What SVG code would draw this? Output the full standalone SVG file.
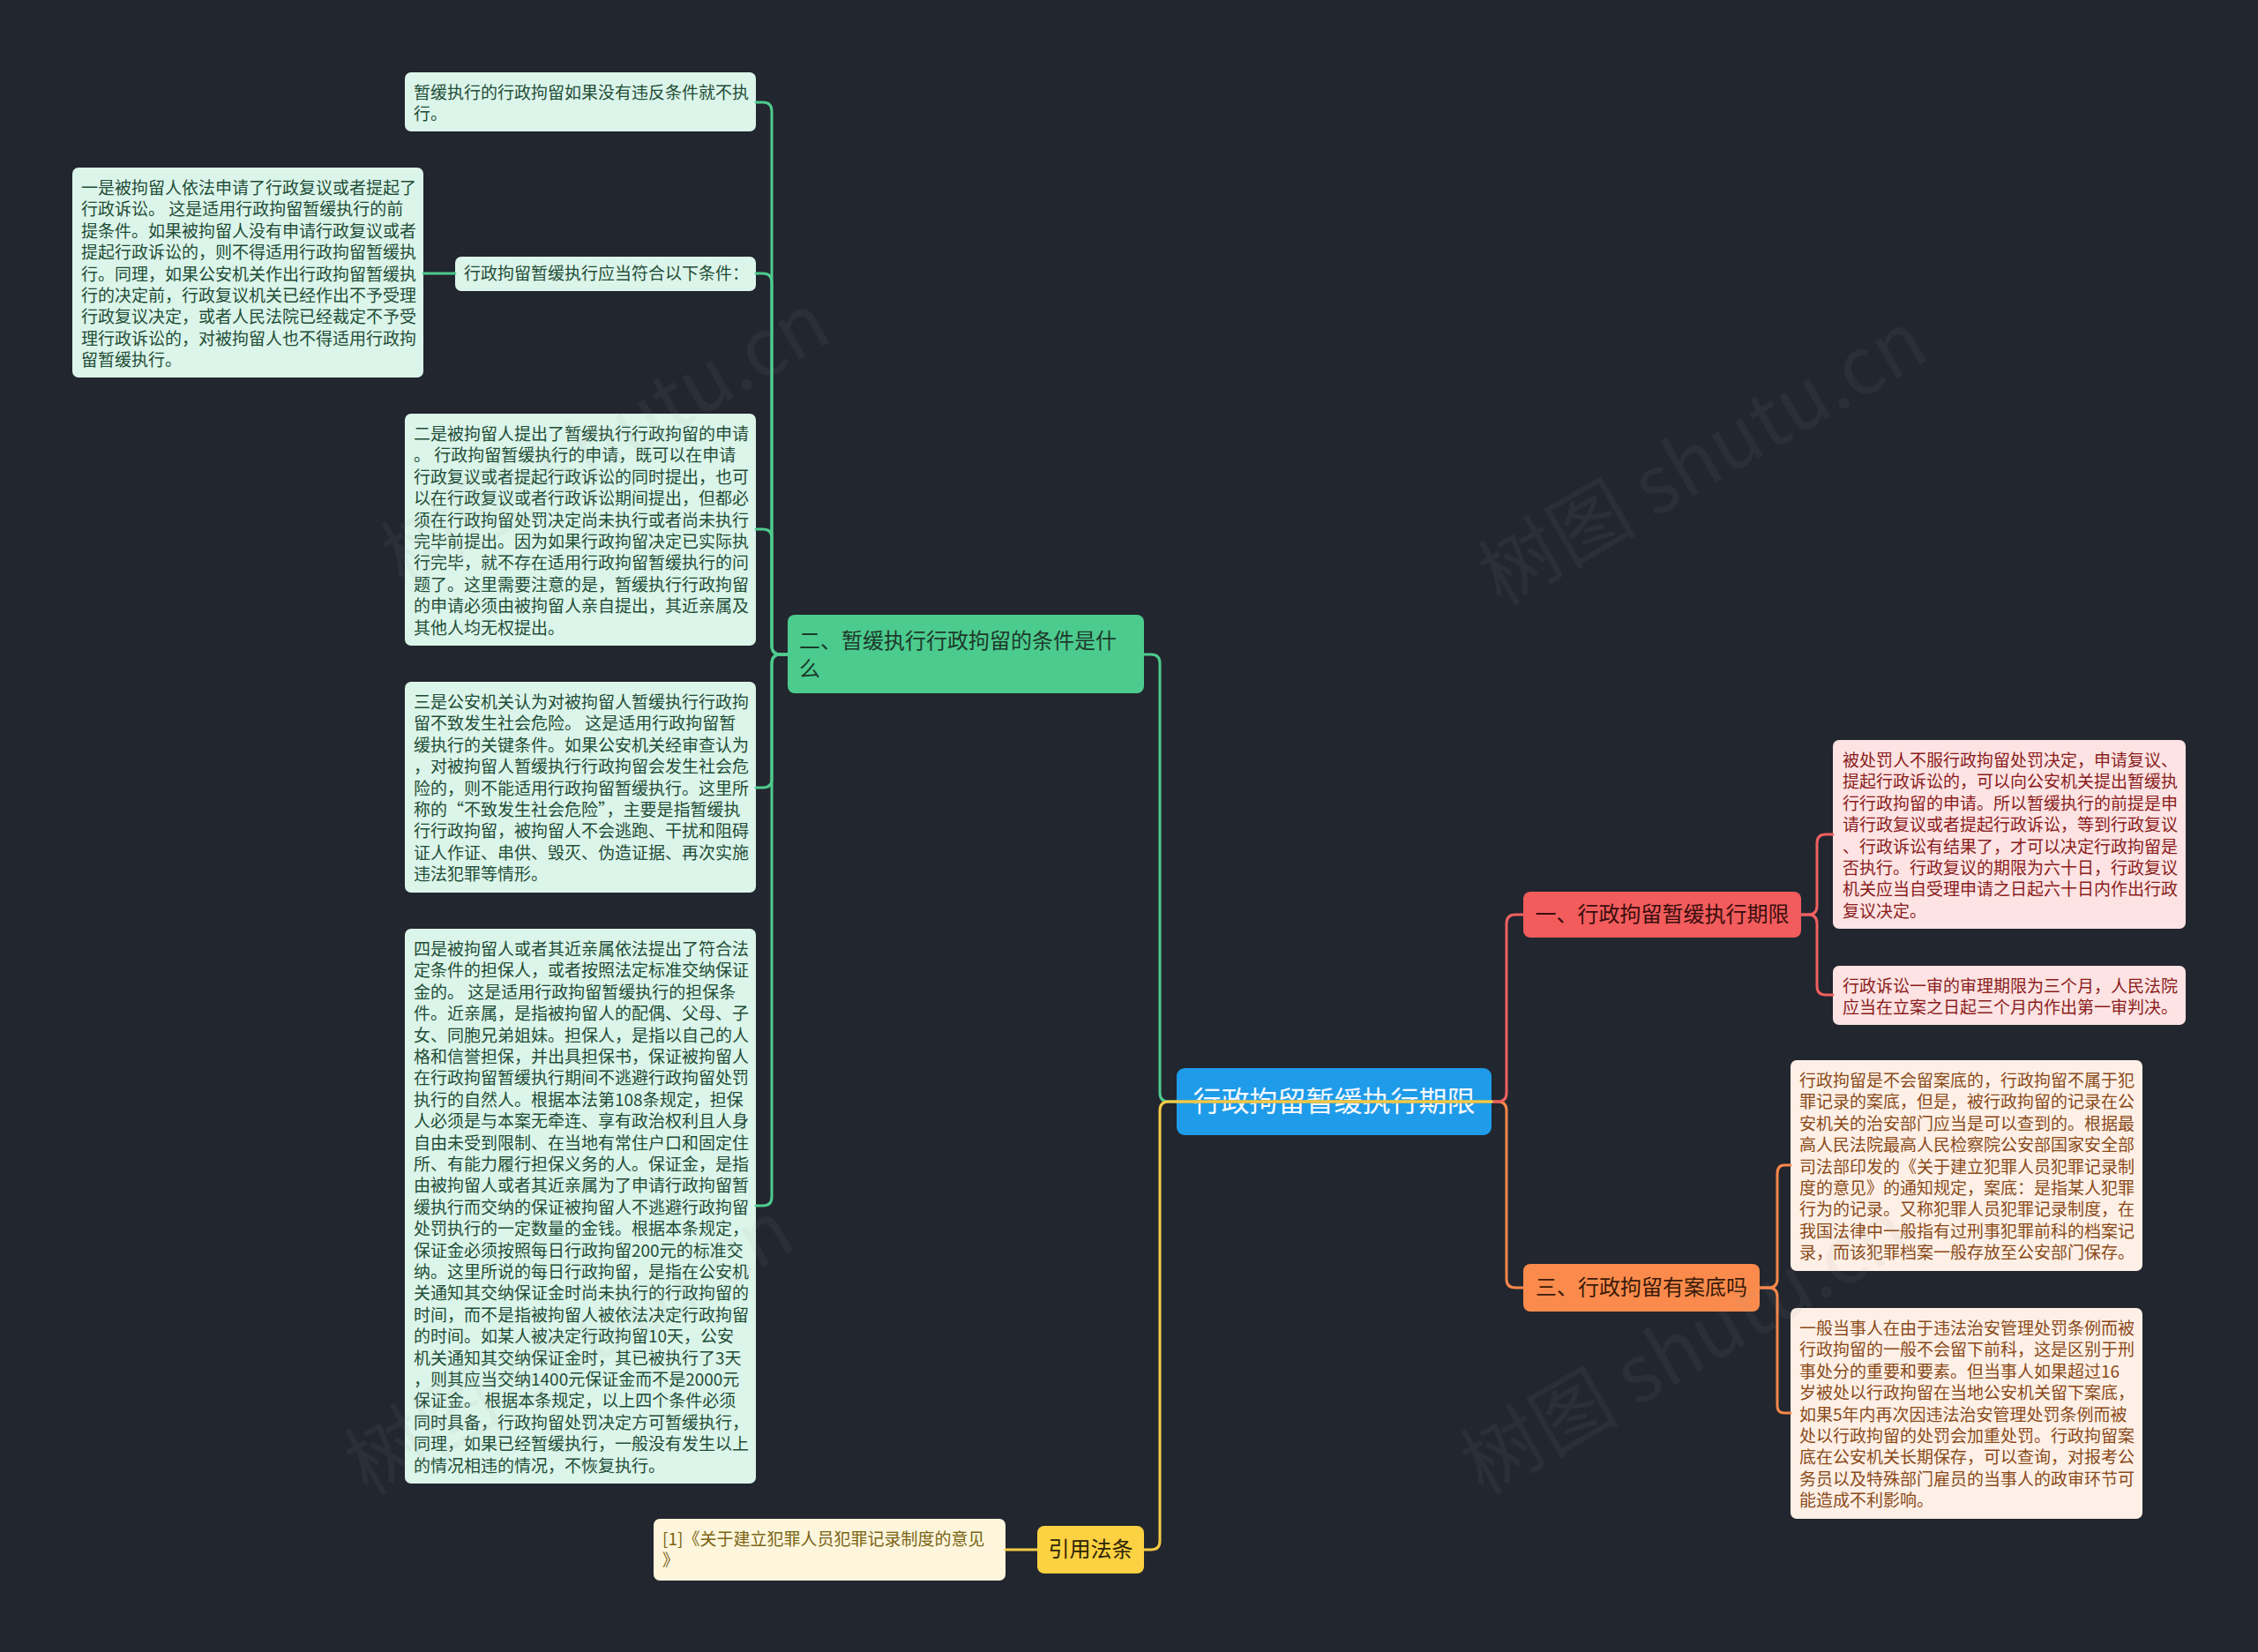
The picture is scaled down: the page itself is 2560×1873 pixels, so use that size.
<svg xmlns="http://www.w3.org/2000/svg" width="2560" height="1873" viewBox="0 0 2560 1873">
<style>
.t{font-family:"Noto Sans CJK SC","Noto Sans",sans-serif;}
.leaf{font-size:19px;}
.br{font-size:24px;}
.gl{fill:#dcf5ea;}
.glt{fill:#1f4d37;}
.rl{fill:#fde3e3;}
.rlt{fill:#8a1c1c;}
.ol{fill:#fef0e6;}
.olt{fill:#8a4a1a;}
.c{fill:none;stroke-width:3;stroke-linecap:round;}
.wm{font-family:"Noto Sans CJK SC",sans-serif;font-size:90px;fill:#9a9a9a;opacity:0.08;}
</style>
<rect width="2560" height="1873" fill="#22262f"/>

<g id="nodes">
<g id="n-g1">
<rect x="459" y="82" width="398" height="67" rx="7" class="gl"/>
<text class="t leaf glt"><tspan x="469" y="112">暂缓执行的行政拘留如果没有违反条件就不执</tspan><tspan x="469" y="136.4">行。</tspan></text>
</g>
<g id="n-g2">
<rect x="516" y="291" width="341" height="39" rx="7" class="gl"/>
<text class="t leaf glt"><tspan x="526" y="317">行政拘留暂缓执行应当符合以下条件：</tspan></text>
</g>
<g id="n-g2a">
<rect x="82" y="190" width="398" height="238" rx="7" class="gl"/>
<text class="t leaf glt"><tspan x="92" y="220">一是被拘留人依法申请了行政复议或者提起了</tspan><tspan x="92" y="244.4">行政诉讼。 这是适用行政拘留暂缓执行的前</tspan><tspan x="92" y="268.8">提条件。如果被拘留人没有申请行政复议或者</tspan><tspan x="92" y="293.2">提起行政诉讼的，则不得适用行政拘留暂缓执</tspan><tspan x="92" y="317.6">行。同理，如果公安机关作出行政拘留暂缓执</tspan><tspan x="92" y="342">行的决定前，行政复议机关已经作出不予受理</tspan><tspan x="92" y="366.4">行政复议决定，或者人民法院已经裁定不予受</tspan><tspan x="92" y="390.8">理行政诉讼的，对被拘留人也不得适用行政拘</tspan><tspan x="92" y="415.2">留暂缓执行。</tspan></text>
</g>
<g id="n-g3">
<rect x="459" y="469" width="398" height="263" rx="7" class="gl"/>
<text class="t leaf glt"><tspan x="469" y="499">二是被拘留人提出了暂缓执行行政拘留的申请</tspan><tspan x="469" y="523.4">。 行政拘留暂缓执行的申请，既可以在申请</tspan><tspan x="469" y="547.8">行政复议或者提起行政诉讼的同时提出，也可</tspan><tspan x="469" y="572.2">以在行政复议或者行政诉讼期间提出，但都必</tspan><tspan x="469" y="596.6">须在行政拘留处罚决定尚未执行或者尚未执行</tspan><tspan x="469" y="621">完毕前提出。因为如果行政拘留决定已实际执</tspan><tspan x="469" y="645.4">行完毕，就不存在适用行政拘留暂缓执行的问</tspan><tspan x="469" y="669.8">题了。这里需要注意的是，暂缓执行行政拘留</tspan><tspan x="469" y="694.2">的申请必须由被拘留人亲自提出，其近亲属及</tspan><tspan x="469" y="718.6">其他人均无权提出。</tspan></text>
</g>
<g id="n-g4">
<rect x="459" y="773" width="398" height="239" rx="7" class="gl"/>
<text class="t leaf glt"><tspan x="469" y="803">三是公安机关认为对被拘留人暂缓执行行政拘</tspan><tspan x="469" y="827.4">留不致发生社会危险。 这是适用行政拘留暂</tspan><tspan x="469" y="851.8">缓执行的关键条件。如果公安机关经审查认为</tspan><tspan x="469" y="876.2">，对被拘留人暂缓执行行政拘留会发生社会危</tspan><tspan x="469" y="900.6">险的，则不能适用行政拘留暂缓执行。这里所</tspan><tspan x="469" y="925">称的“不致发生社会危险”，主要是指暂缓执</tspan><tspan x="469" y="949.4">行行政拘留，被拘留人不会逃跑、干扰和阻碍</tspan><tspan x="469" y="973.8">证人作证、串供、毁灭、伪造证据、再次实施</tspan><tspan x="469" y="998.2">违法犯罪等情形。</tspan></text>
</g>
<g id="n-g5">
<rect x="459" y="1053" width="398" height="629" rx="7" class="gl"/>
<text class="t leaf glt"><tspan x="469" y="1083">四是被拘留人或者其近亲属依法提出了符合法</tspan><tspan x="469" y="1107.4">定条件的担保人，或者按照法定标准交纳保证</tspan><tspan x="469" y="1131.8">金的。 这是适用行政拘留暂缓执行的担保条</tspan><tspan x="469" y="1156.2">件。近亲属，是指被拘留人的配偶、父母、子</tspan><tspan x="469" y="1180.6">女、同胞兄弟姐妹。担保人，是指以自己的人</tspan><tspan x="469" y="1205">格和信誉担保，并出具担保书，保证被拘留人</tspan><tspan x="469" y="1229.4">在行政拘留暂缓执行期间不逃避行政拘留处罚</tspan><tspan x="469" y="1253.8">执行的自然人。根据本法第108条规定，担保</tspan><tspan x="469" y="1278.2">人必须是与本案无牵连、享有政治权利且人身</tspan><tspan x="469" y="1302.6">自由未受到限制、在当地有常住户口和固定住</tspan><tspan x="469" y="1327">所、有能力履行担保义务的人。保证金，是指</tspan><tspan x="469" y="1351.4">由被拘留人或者其近亲属为了申请行政拘留暂</tspan><tspan x="469" y="1375.8">缓执行而交纳的保证被拘留人不逃避行政拘留</tspan><tspan x="469" y="1400.2">处罚执行的一定数量的金钱。根据本条规定，</tspan><tspan x="469" y="1424.6">保证金必须按照每日行政拘留200元的标准交</tspan><tspan x="469" y="1449">纳。这里所说的每日行政拘留，是指在公安机</tspan><tspan x="469" y="1473.4">关通知其交纳保证金时尚未执行的行政拘留的</tspan><tspan x="469" y="1497.8">时间，而不是指被拘留人被依法决定行政拘留</tspan><tspan x="469" y="1522.2">的时间。如某人被决定行政拘留10天，公安</tspan><tspan x="469" y="1546.6">机关通知其交纳保证金时，其已被执行了3天</tspan><tspan x="469" y="1571">，则其应当交纳1400元保证金而不是2000元</tspan><tspan x="469" y="1595.4">保证金。 根据本条规定，以上四个条件必须</tspan><tspan x="469" y="1619.8">同时具备，行政拘留处罚决定方可暂缓执行，</tspan><tspan x="469" y="1644.2">同理，如果已经暂缓执行，一般没有发生以上</tspan><tspan x="469" y="1668.6">的情况相违的情况，不恢复执行。</tspan></text>
</g>
<g id="n-green">
<rect x="893" y="697" width="404" height="89" rx="8" fill="#4ccb8e"/>
<text class="t br" fill="#1c3a2b"><tspan x="906" y="735">二、暂缓执行行政拘留的条件是什</tspan><tspan x="906" y="767">么</tspan></text>
</g>
<g id="n-ref">
<rect x="741" y="1722" width="399" height="70" rx="7" fill="#fdf6dc"/>
<text class="t leaf" fill="#7a6414"><tspan x="751" y="1752">[1]《关于建立犯罪人员犯罪记录制度的意见</tspan><tspan x="751" y="1776.4">》</tspan></text>
</g>
<g id="n-yellow">
<rect x="1176" y="1730" width="121" height="54" rx="8" fill="#fcd142"/>
<text class="t br" fill="#2b2406" x="1236.5" y="1765" text-anchor="middle">引用法条</text>
</g>
<g id="n-root">
<rect x="1334" y="1211" width="357" height="76" rx="9" fill="#1e9be9"/>
<text class="t" font-size="32" fill="#f2f8ff" x="1512.5" y="1260" text-anchor="middle">行政拘留暂缓执行期限</text>
</g>
<g id="n-red">
<rect x="1727" y="1011" width="315" height="52" rx="8" fill="#f25c5c"/>
<text class="t br" fill="#3a0d0d" x="1884.5" y="1045" text-anchor="middle">一、行政拘留暂缓执行期限</text>
</g>
<g id="n-r1">
<rect x="2078" y="839" width="400" height="214" rx="7" class="rl"/>
<text class="t leaf rlt"><tspan x="2089" y="869">被处罚人不服行政拘留处罚决定，申请复议、</tspan><tspan x="2089" y="893.4">提起行政诉讼的，可以向公安机关提出暂缓执</tspan><tspan x="2089" y="917.8">行行政拘留的申请。所以暂缓执行的前提是申</tspan><tspan x="2089" y="942.2">请行政复议或者提起行政诉讼，等到行政复议</tspan><tspan x="2089" y="966.6">、行政诉讼有结果了，才可以决定行政拘留是</tspan><tspan x="2089" y="991">否执行。行政复议的期限为六十日，行政复议</tspan><tspan x="2089" y="1015.4">机关应当自受理申请之日起六十日内作出行政</tspan><tspan x="2089" y="1039.8">复议决定。</tspan></text>
</g>
<g id="n-r2">
<rect x="2078" y="1095" width="400" height="67" rx="7" class="rl"/>
<text class="t leaf rlt"><tspan x="2089" y="1125">行政诉讼一审的审理期限为三个月，人民法院</tspan><tspan x="2089" y="1149.4">应当在立案之日起三个月内作出第一审判决。</tspan></text>
</g>
<g id="n-orange">
<rect x="1727" y="1433" width="268" height="54" rx="8" fill="#fb8b4c"/>
<text class="t br" fill="#3a1a08" x="1861" y="1468" text-anchor="middle">三、行政拘留有案底吗</text>
</g>
<g id="n-o1">
<rect x="2030" y="1202" width="399" height="239" rx="7" class="ol"/>
<text class="t leaf olt"><tspan x="2040" y="1232">行政拘留是不会留案底的，行政拘留不属于犯</tspan><tspan x="2040" y="1256.4">罪记录的案底，但是，被行政拘留的记录在公</tspan><tspan x="2040" y="1280.8">安机关的治安部门应当是可以查到的。根据最</tspan><tspan x="2040" y="1305.2">高人民法院最高人民检察院公安部国家安全部</tspan><tspan x="2040" y="1329.6">司法部印发的《关于建立犯罪人员犯罪记录制</tspan><tspan x="2040" y="1354">度的意见》的通知规定，案底：是指某人犯罪</tspan><tspan x="2040" y="1378.4">行为的记录。又称犯罪人员犯罪记录制度，在</tspan><tspan x="2040" y="1402.8">我国法律中一般指有过刑事犯罪前科的档案记</tspan><tspan x="2040" y="1427.2">录，而该犯罪档案一般存放至公安部门保存。</tspan></text>
</g>
<g id="n-o2">
<rect x="2030" y="1483" width="399" height="239" rx="7" class="ol"/>
<text class="t leaf olt"><tspan x="2040" y="1513">一般当事人在由于违法治安管理处罚条例而被</tspan><tspan x="2040" y="1537.4">行政拘留的一般不会留下前科，这是区别于刑</tspan><tspan x="2040" y="1561.8">事处分的重要和要素。但当事人如果超过16</tspan><tspan x="2040" y="1586.2">岁被处以行政拘留在当地公安机关留下案底，</tspan><tspan x="2040" y="1610.6">如果5年内再次因违法治安管理处罚条例而被</tspan><tspan x="2040" y="1635">处以行政拘留的处罚会加重处罚。行政拘留案</tspan><tspan x="2040" y="1659.4">底在公安机关长期保存，可以查询，对报考公</tspan><tspan x="2040" y="1683.8">务员以及特殊部门雇员的当事人的政审环节可</tspan><tspan x="2040" y="1708.2">能造成不利影响。</tspan></text>
</g>
</g>

<g id="connectors">
<g stroke="#f9874a" class="c">
<path d="M1334 1249 H1698 Q1708 1249 1708 1259 V1450 Q1708 1460 1718 1460 H1727"/>
<path d="M1995 1460 H2005 Q2015 1460 2015 1450 V1331 Q2015 1321 2023 1321 H2030"/>
<path d="M1995 1460 H2005 Q2015 1460 2015 1470 V1594 Q2015 1602 2023 1602 H2030"/>
</g>
<g stroke="#f06060" class="c">
<path d="M1334 1249 H1698 Q1708 1249 1708 1239 V1047 Q1708 1037 1718 1037 H1727"/>
<path d="M2042 1037 H2050 Q2060 1037 2060 1027 V956 Q2060 946 2070 946 H2078"/>
<path d="M2042 1037 H2050 Q2060 1037 2060 1047 V1118 Q2060 1128 2070 1128 H2078"/>
</g>
<g stroke="#4ecb8d" class="c">
<path d="M1691 1249 H1325 Q1315 1249 1315 1239 V752 Q1315 742 1305 742 H1297"/>
<path d="M893 742 H885 Q875 742 875 732 V126 Q875 116 865 116 H857"/>
<path d="M893 742 H885 Q875 742 875 732 V320 Q875 310 865 310 H857"/>
<path d="M893 742 H885 Q875 742 875 732 V610 Q875 600 865 600 H857"/>
<path d="M893 742 H885 Q875 742 875 752 V883 Q875 893 865 893 H857"/>
<path d="M893 742 H885 Q875 742 875 752 V1357 Q875 1367 865 1367 H857"/>
<path d="M516 310 H480"/>
</g>
<g stroke="#f7cb45" class="c">
<path d="M1691 1249 H1325 Q1315 1249 1315 1259 V1747 Q1315 1757 1305 1757 H1297"/>
<path d="M1176 1757 H1140"/>
</g>
</g>

<g id="watermarks">
<text class="wm" x="686" y="530" text-anchor="middle" transform="rotate(-30 686 498)">树图 shutu.cn</text>
<text class="wm" x="1930" y="551" text-anchor="middle" transform="rotate(-30 1930 519)">树图 shutu.cn</text>
<text class="wm" x="645" y="1559" text-anchor="middle" transform="rotate(-30 645 1527)">树图 shutu.cn</text>
<text class="wm" x="1910" y="1559" text-anchor="middle" transform="rotate(-30 1910 1527)">树图 shutu.cn</text>
</g>
</svg>
